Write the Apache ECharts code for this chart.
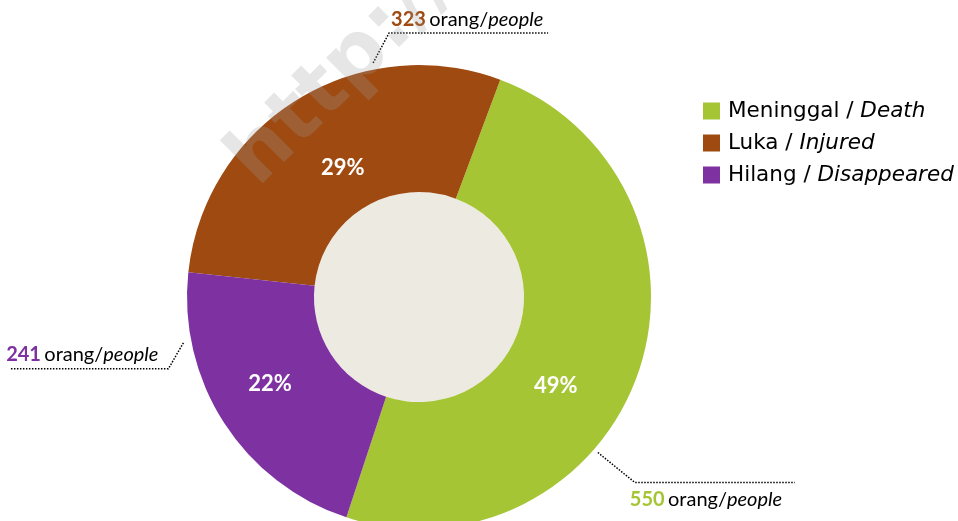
<!DOCTYPE html>
<html>
<head>
<meta charset="utf-8">
<script src="https://cdn.jsdelivr.net/npm/echarts@6/dist/echarts.min.js"></script>
<style>
    html, body { margin: 0; padding: 0; background: #fff; }
    #main { width: 958px; height: 521px; }
</style>
</head>
<body>
<div id="main"></div>
<script>
// data
var namesId = ['Meninggal', 'Luka', 'Hilang'];
var namesEn = ['Death', 'Injured', 'Disappeared'];
var values = [550, 323, 241];
var unitId = 'orang/';
var unitEn = 'people';

var colors = ['#A6C535', '#9E4A10', '#7E31A0'];
var names = namesId.map(function (n, i) { return n + ' / ' + namesEn[i]; });

// layout (px)
var CX = 419, CY = 297, R_IN = 105, R_OUT = 232;
var BORDER_ANGLE = 20.5;   // green/brown border, degrees clockwise from top
// percent labels: [angle clockwise from top, distance from centre]
var pctPos = [[123, 163], [-30.5, 150], [-120.3, 172.5]];
// leader lines: start angle/radius, corner offset, horizontal length, label offset
var leaders = [
    {a: 131, r: 237, dx: 37, dy: 30, len: 160, tx: -5, ty: 17, align: 'left'},
    {a: -11.1, r: 238.5, dx: 16, dy: -30, len: 159, tx: 2, ty: -13, align: 'left'},
    {a: -101, r: 240, dx: -15, dy: 26, len: -158, tx: -10, ty: -14, align: 'right'}
];

function polar(a, r) {
    var t = a * Math.PI / 180;
    return [CX + r * Math.sin(t), CY - r * Math.cos(t)];
}

var total = values.reduce(function (s, v) { return s + v; }, 0);
var startAngle = 90 - (BORDER_ANGLE + values[0] / total * 360);

var pieData = values.map(function (v, i) {
    return {name: names[i], value: v, itemStyle: {color: colors[i]}};
});

var LBL_FONT = 'Lato', LBL_SIZE = 20;
var richNum = {};
colors.forEach(function (c, i) {
    richNum['n' + i] = {color: c, fontWeight: 'bold', fontFamily: LBL_FONT, fontSize: LBL_SIZE};
});
richNum.t = {color: '#000', fontFamily: LBL_FONT, fontSize: LBL_SIZE};
richNum.i = {color: '#000', fontFamily: LBL_FONT, fontSize: LBL_SIZE, fontStyle: 'italic'};

var chart = echarts.init(document.getElementById('main'), null, {renderer: 'canvas'});

var option = {
    backgroundColor: '#fff',
    animation: false,
    legend: {
        orient: 'vertical',
        left: 703,
        top: 100,
        padding: 0,
        icon: 'rect',
        itemWidth: 17,
        itemHeight: 17,
        itemGap: 10,
        selectedMode: false,
        data: names,
        formatter: function (name) {
            var p = name.split(' / ');
            return p[0] + ' / {i|' + p[1] + '}';
        },
        textStyle: {
            fontFamily: 'DejaVu Sans',
            fontSize: 21.5,
            color: '#000',
            lineHeight: 22,
            padding: [0, 0, 0, 3],
            rich: {
                i: {fontFamily: 'DejaVu Sans', fontSize: 21.5, fontStyle: 'italic', color: '#000', lineHeight: 22}
            }
        }
    },
    graphic: [{
        type: 'text',
        x: 215,
        y: 145,
        rotation: Math.PI / 4,
        silent: true,
        z: 100,
        style: {
            text: 'http://',
            font: 'bold 80px "DejaVu Sans"',
            fill: 'rgba(160,160,160,0.26)',
            textBaseline: 'alphabetic'
        }
    }],
    series: [
        {
            // beige centre
            type: 'pie',
            center: [CX, CY],
            radius: [0, R_IN],
            silent: true,
            label: {show: false},
            labelLine: {show: false},
            emphasis: {disabled: true},
            data: [{value: 1, name: '', itemStyle: {color: '#EDEAE1'}}]
        },
        {
            name: 'ring',
            type: 'pie',
            center: [CX, CY],
            radius: [R_IN, R_OUT],
            startAngle: startAngle,
            clockwise: false,
            avoidLabelOverlap: false,
            silent: true,
            emphasis: {disabled: true},
            itemStyle: {borderWidth: 0},
            label: {
                show: true,
                position: 'inside',
                color: '#fff',
                fontFamily: 'Lato',
                fontWeight: 'bold',
                fontSize: 22,
                formatter: function (p) { return Math.round(p.percent) + '%'; }
            },
            labelLine: {show: false},
            labelLayout: function (p) {
                var pt = polar(pctPos[p.dataIndex][0], pctPos[p.dataIndex][1]);
                return {x: pt[0], y: pt[1], align: 'center', verticalAlign: 'middle'};
            },
            data: pieData
        },
        {
            name: 'counts',
            type: 'pie',
            center: [CX, CY],
            radius: [R_IN, R_OUT],
            startAngle: startAngle,
            clockwise: false,
            avoidLabelOverlap: false,
            silent: true,
            emphasis: {disabled: true},
            itemStyle: {color: 'rgba(0,0,0,0)', borderWidth: 0},
            label: {
                show: true,
                position: 'outside',
                width: 180,
                overflow: 'none',
                rich: richNum,
                formatter: function (p) {
                    return '{n' + p.dataIndex + '|' + p.value + '} {t|' + unitId + '}{i|' + unitEn + '}';
                }
            },
            labelLine: {
                show: true,
                smooth: false,
                lineStyle: {color: '#000', width: 1.5, type: 'dotted'}
            },
            labelLayout: function (p) {
                var L = leaders[p.dataIndex];
                var s = polar(L.a, L.r);
                var c = [s[0] + L.dx, s[1] + L.dy];
                var e = [c[0] + L.len, c[1]];
                return {
                    x: c[0] + L.tx,
                    y: c[1] + L.ty,
                    align: L.align,
                    verticalAlign: 'middle',
                    labelLinePoints: [s, c, e]
                };
            },
            data: values.map(function (v, i) { return {name: names[i], value: v}; })
        }
    ]
};

chart.setOption(option);
</script>
</body>
</html>
